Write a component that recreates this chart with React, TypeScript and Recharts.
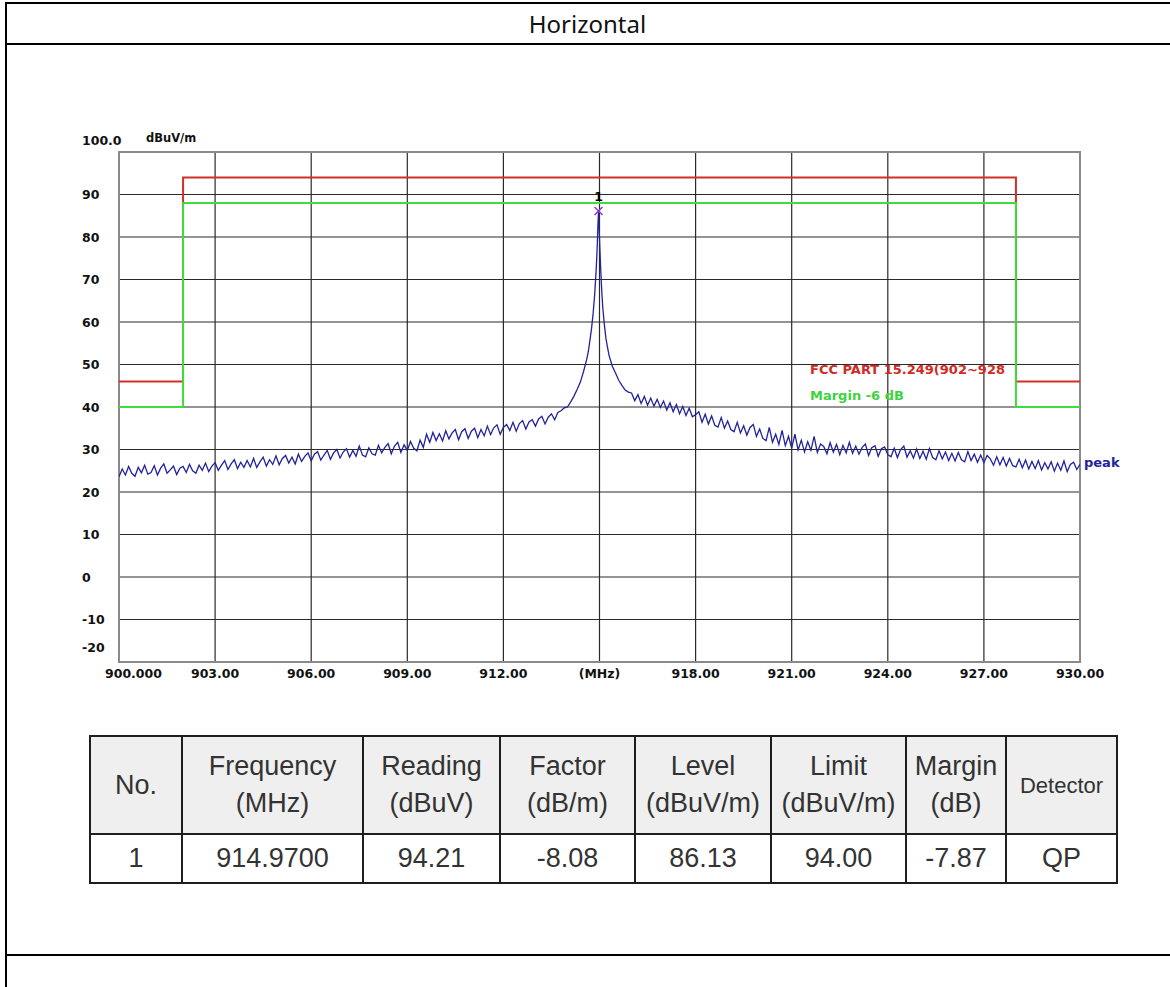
import React from 'react';
import { ComposedChart, Line, XAxis, YAxis, CartesianGrid, ReferenceArea, ReferenceDot } from 'recharts';

// sweep 900.0 .. 914.0 MHz, 0.1 MHz step (dBuV/m)
const LEFT_START = 900;
const LEFT_LEVELS = [
  23.6, 25.4, 24.0, 26.0, 24.4, 23.7, 25.8, 24.5, 26.3, 24.2,
  24.6, 26.2, 24.0, 25.6, 26.6, 24.4, 25.2, 26.1, 24.1, 25.6,
  26.0, 24.6, 26.5, 25.0, 24.4, 26.3, 25.1, 26.8, 24.8, 26.1,
  26.9, 25.1, 26.3, 27.4, 25.3, 26.6, 27.6, 25.5, 27.0, 25.8,
  27.4, 25.9, 27.9, 25.8, 27.1, 28.2, 26.1, 27.6, 26.5, 28.5,
  26.4, 27.9, 28.6, 26.8, 28.2, 26.6, 28.9, 27.2, 28.4, 29.2,
  27.3, 28.9, 29.5, 27.5, 28.7, 29.8, 27.7, 29.2, 30.0, 28.0,
  29.4, 30.2, 28.2, 29.8, 28.4, 30.8, 28.7, 28.3, 30.4, 29.0,
  28.7, 31.0, 29.2, 30.5, 31.4, 29.0, 30.8, 31.7, 29.3, 31.1,
  29.8, 31.9, 30.3, 29.7, 32.2, 30.5, 33.6, 31.7, 34.0, 32.1,
  33.7, 32.0, 34.4, 32.5, 33.9, 34.7, 32.3, 34.2, 34.9, 32.6,
  34.3, 35.0, 32.8, 34.7, 33.2, 35.5, 33.5, 35.1, 35.8, 33.6,
  35.2, 35.9, 34.5, 36.4, 34.3, 36.1, 36.8, 34.8, 36.5, 37.0,
  35.5, 37.2, 37.8, 36.0, 37.6, 38.4, 37.0, 38.7, 39.1, 39.8,
  40.0,
];

// around the carrier
const PEAK_FREQS = [
  914.1, 914.2, 914.3, 914.4, 914.5, 914.6, 914.65, 914.7, 914.75, 914.8,
  914.85, 914.9, 914.93, 914.95, 914.97, 914.99, 915.01, 915.04, 915.07, 915.1,
  915.15, 915.2, 915.25, 915.3, 915.4, 915.5, 915.6, 915.7, 915.8, 915.9,
];
const PEAK_LEVELS = [
  41.2, 42.5, 44.1, 45.8, 48.3, 51.2, 53.0, 55.6, 58.4, 61.9,
  66.5, 72.8, 78.0, 82.5, 86.1, 82.0, 77.5, 72.0, 67.4, 63.6,
  59.5, 56.2, 54.0, 52.1, 49.6, 48.0, 46.3, 45.1, 44.0, 43.5,
];

// sweep 916.0 .. 930.0 MHz, 0.1 MHz step
const RIGHT_START = 916;
const RIGHT_LEVELS = [
  43.3, 41.5, 42.9, 40.8, 42.5, 40.4, 42.1, 40.2, 41.8, 39.9,
  41.4, 39.3, 41.0, 38.9, 40.6, 38.4, 40.1, 38.0, 39.7, 37.7,
  38.2, 38.9, 36.4, 38.3, 36.0, 37.9, 35.7, 35.3, 37.5, 35.0,
  36.7, 34.7, 34.2, 36.4, 33.9, 35.6, 33.4, 35.2, 35.9, 33.1,
  34.8, 32.6, 32.1, 35.2, 31.7, 33.6, 31.2, 34.5, 30.9, 33.1,
  30.3, 33.6, 29.9, 32.2, 29.4, 31.8, 29.8, 33.1, 29.3, 31.3,
  30.7, 29.0, 31.6, 29.4, 31.2, 28.8, 31.0, 29.2, 31.7, 29.1,
  30.8, 28.9, 30.5, 31.3, 28.6, 30.4, 30.9, 28.4, 30.2, 30.6,
  28.8, 28.3, 30.3, 28.1, 30.0, 30.8, 28.2, 29.7, 28.0, 30.1,
  27.9, 29.6, 27.7, 30.2, 28.1, 27.6, 29.7, 27.8, 29.4, 27.4,
  29.1, 27.3, 29.3, 27.6, 27.1, 29.5, 27.4, 28.9, 27.0, 28.7,
  26.9, 28.6, 27.8, 26.3, 28.3, 26.4, 28.1, 26.1, 27.9, 26.2,
  25.9, 27.7, 25.7, 27.5, 25.4, 27.2, 25.5, 27.4, 25.2, 26.9,
  25.4, 27.1, 24.9, 26.8, 25.1, 27.3, 24.8, 26.5, 27.0, 25.3,
  26.5,
];
const STEP = 0.1;

// FCC part 15.249 limit and margin line
const LIMIT_FREQS = [900, 902, 902, 928, 928, 930];
const LIMIT_LEVELS = [46, 46, 94, 94, 46, 46];
const MARGIN_LEVELS = [40, 40, 88, 88, 40, 40];

const X_TICKS = [900, 903, 906, 909, 912, 915, 918, 921, 924, 927, 930];
const Y_TICKS = [-20, -10, 0, 10, 20, 30, 40, 50, 60, 70, 80, 90, 100];

const MARKER = { no: 1, freq: 914.97, level: 86.13 };

const TABLE_HEAD = [
  ['No.'], ['Frequency', '(MHz)'], ['Reading', '(dBuV)'], ['Factor', '(dB/m)'],
  ['Level', '(dBuV/m)'], ['Limit', '(dBuV/m)'], ['Margin', '(dB)'], ['Detector'],
];
const TABLE_ROW = ['1', '914.9700', '94.21', '-8.08', '86.13', '94.00', '-7.87', 'QP'];
const COL_WIDTHS = [92, 181, 137, 135, 136, 135, 100, 111];

const sweep = (start: number, levels: number[]) =>
  levels.map((v, i) => ({ f: Math.round((start + i * STEP) * 100) / 100, v }));

const trace = [
  ...sweep(LEFT_START, LEFT_LEVELS),
  ...PEAK_FREQS.map((f, i) => ({ f, v: PEAK_LEVELS[i] })),
  ...sweep(RIGHT_START, RIGHT_LEVELS),
];
const limitData = LIMIT_FREQS.map((f, i) => ({ f, v: LIMIT_LEVELS[i] }));
const marginData = LIMIT_FREQS.map((f, i) => ({ f, v: MARGIN_LEVELS[i] }));

const LBL = { fontFamily: 'DejaVu Sans', fontWeight: 'bold' as const, fontSize: 12.5, fill: '#111' };

const XTick = ({ x, y, payload }: any) => {
  const v = payload.value;
  const text = v === 900 ? '900.000' : v === 915 ? '(MHz)' : v.toFixed(2);
  return (
    <text x={v === 900 ? x - 14 : x} y={y + 11} textAnchor={v === 900 ? 'start' : 'middle'}
      dominantBaseline="central" {...LBL}>
      {text}
    </text>
  );
};

const YTick = ({ y, payload }: any) => {
  const v = payload.value;
  if (v === 100) {
    return (
      <g>
        <text x={82} y={y - 12} dominantBaseline="central" {...LBL}>100.0</text>
        <text x={146} y={y - 14} dominantBaseline="central" {...LBL} fontSize={11.5}>dBuV/m</text>
      </g>
    );
  }
  return (
    <text x={82} y={v === -20 ? y - 15 : y} dominantBaseline="central" {...LBL}>{v}</text>
  );
};

const MarkerShape = ({ cx, cy }: any) => (
  <g>
    <line x1={cx - 4} y1={cy - 4} x2={cx + 4} y2={cy + 4} stroke="#8a3fc8" strokeWidth={1.5} />
    <line x1={cx - 4} y1={cy + 4} x2={cx + 4} y2={cy - 4} stroke="#8a3fc8" strokeWidth={1.5} />
    <text x={cx} y={cy - 14} textAnchor="middle" dominantBaseline="central" {...LBL} fill="#000">
      {MARKER.no}
    </text>
  </g>
);

const line = (style: React.CSSProperties): React.CSSProperties => ({ position: 'absolute', background: '#000', ...style });

const cellText: React.CSSProperties = {
  fontFamily: 'Liberation Sans, Arial, sans-serif',
  color: '#333',
  textAlign: 'center',
  border: '2px solid #1e1e1e',
  padding: 0,
};

export default function App() {
  return (
    <div style={{ position: 'absolute', left: 0, top: 0, width: 1170, height: 987, background: '#fff', overflow: 'hidden' }}>
      <div style={line({ left: 5, top: 2, width: 2, height: 985 })} />
      <div style={line({ left: 5, top: 2, width: 1165, height: 2 })} />
      <div style={line({ left: 5, top: 43, width: 1165, height: 2 })} />
      <div style={line({ left: 5, top: 954, width: 1165, height: 2 })} />
      <div style={{ position: 'absolute', left: 5, width: 1165, top: 4, height: 39, lineHeight: '39px', textAlign: 'center', fontFamily: 'Noto Sans', fontSize: 24, color: '#111' }}>
        Horizontal
      </div>

      <div style={{ position: 'absolute', left: 0, top: 0 }}>
        <ComposedChart width={1170} height={720} margin={{ top: 152, right: 90, bottom: 28, left: 0 }}>
          <CartesianGrid stroke="#2a2a2a" strokeWidth={1.2} />
          <XAxis dataKey="f" type="number" domain={[900, 930]} ticks={X_TICKS} allowDataOverflow
            height={30} tickSize={0} tickMargin={0} axisLine={false} tickLine={false} tick={<XTick />} interval={0} />
          <YAxis type="number" domain={[-20, 100]} ticks={Y_TICKS} allowDataOverflow
            width={119} tickSize={0} tickMargin={0} axisLine={false} tickLine={false} tick={<YTick />} interval={0} />
          <Line data={limitData} dataKey="v" type="linear" stroke="#d42e28" strokeWidth={2} dot={false} isAnimationActive={false} />
          <Line data={marginData} dataKey="v" type="linear" stroke="#3fdc3f" strokeWidth={2} dot={false} isAnimationActive={false} />
          <Line data={trace} dataKey="v" type="linear" stroke="#22229c" strokeWidth={1.3} dot={false} isAnimationActive={false} />
          <ReferenceArea x1={900} x2={930} y1={-20} y2={100} fill="none" stroke="#8a8a8a" strokeWidth={2} />
          <ReferenceDot x={MARKER.freq} y={MARKER.level} r={4} shape={<MarkerShape />} />
        </ComposedChart>
      </div>

      <div style={{ position: 'absolute', left: 810, top: 361, fontFamily: 'DejaVu Sans', fontWeight: 'bold', fontSize: 13, lineHeight: '18px', color: '#d22a24', whiteSpace: 'nowrap' }}>
        FCC PART 15.249(902~928
      </div>
      <div style={{ position: 'absolute', left: 810, top: 387, fontFamily: 'DejaVu Sans', fontWeight: 'bold', fontSize: 13, lineHeight: '18px', color: '#3fd23f', whiteSpace: 'nowrap' }}>
        Margin -6 dB
      </div>
      <div style={{ position: 'absolute', left: 1084, top: 454, fontFamily: 'DejaVu Sans', fontWeight: 'bold', fontSize: 13, lineHeight: '18px', color: '#22229c' }}>
        peak
      </div>

      <table style={{ position: 'absolute', left: 89, top: 735, borderCollapse: 'collapse', tableLayout: 'fixed', width: 1027 }}>
        <colgroup>
          {COL_WIDTHS.map((w, i) => <col key={i} style={{ width: w }} />)}
        </colgroup>
        <tbody>
          <tr style={{ height: 98, background: '#efefef' }}>
            {TABLE_HEAD.map((h, i) => (
              <td key={i} style={{ ...cellText, fontSize: h[0] === 'Detector' ? 22 : 27, lineHeight: '37px' }}>
                {h.map((t, j) => <div key={j}>{t}</div>)}
              </td>
            ))}
          </tr>
          <tr style={{ height: 49, background: '#fff' }}>
            {TABLE_ROW.map((t, i) => (
              <td key={i} style={{ ...cellText, fontSize: 27, lineHeight: '45px' }}>{t}</td>
            ))}
          </tr>
        </tbody>
      </table>
    </div>
  );
}
